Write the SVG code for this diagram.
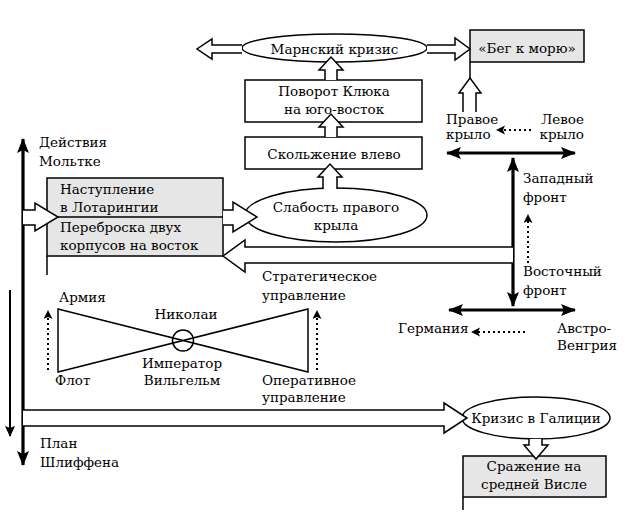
<svg xmlns="http://www.w3.org/2000/svg" width="642" height="532" viewBox="0 0 642 532">
<defs>
<style>
.t{font-family:'DejaVu Serif',serif;font-size:13.5px;fill:#000}
.c{text-anchor:middle}
.e{text-anchor:end}
.box{fill:#fff;stroke:#000;stroke-width:1.5}
.gbox{fill:#e6e6e6;stroke:#000;stroke-width:1.5}
.hol{fill:#fff;stroke:#000;stroke-width:1.5;stroke-linejoin:miter}
.thick{stroke:#000;stroke-width:3.2;fill:none}
.thin{stroke:#000;stroke-width:2;fill:none}
.dot{stroke:#000;stroke-width:2;stroke-dasharray:2 3;fill:none}
.ln{stroke:#000;stroke-width:1.5;fill:none}
</style>
<marker id="ah" markerUnits="userSpaceOnUse" markerWidth="16" markerHeight="12" refX="14" refY="6" orient="auto-start-reverse">
<path d="M0,0 L15,6 L0,12 L3,6 Z" fill="#000"/>
</marker>
<marker id="ahs" markerUnits="userSpaceOnUse" markerWidth="12" markerHeight="10" refX="10" refY="5" orient="auto-start-reverse">
<path d="M0,0 L11,5 L0,10 L2,5 Z" fill="#000"/>
</marker>
<marker id="ahd" markerUnits="userSpaceOnUse" markerWidth="10" markerHeight="10" refX="8" refY="4.5" orient="auto">
<path d="M0,0 L9,4.5 L0,9 L2,4.5 Z" fill="#000"/>
</marker>
</defs>
<g id="axis">
<line class="thick" x1="23" y1="139" x2="23" y2="465" marker-start="url(#ah)" marker-end="url(#ah)"/>
<line class="thin" x1="10" y1="290" x2="10" y2="436" marker-end="url(#ahs)"/>
<text class="t" x="39" y="147">Действия</text>
<text class="t" x="39" y="166">Мольтке</text>
<text class="t" x="40" y="448">План</text>
<text class="t" x="40" y="467">Шлиффена</text>
</g>

<g id="marne">
<ellipse class="box" cx="334.5" cy="48" rx="92.5" ry="14"/>
<text class="t c" x="334.5" y="54">Марнский кризис</text>
</g>

<g id="beg">
<rect class="gbox" x="470" y="30" width="114" height="32"/>
<text class="t c" x="527" y="53">«Бег к морю»</text>
</g>

<g id="kluck">
<rect class="box" x="245" y="80" width="177" height="42"/>
<text class="t c" x="334" y="96">Поворот Клюка</text>
<text class="t c" x="334" y="114">на юго-восток</text>
</g>

<g id="slide">
<rect class="box" x="245" y="137" width="177" height="32"/>
<text class="t c" x="334" y="159">Скольжение влево</text>
</g>

<g id="lorraine">
<rect class="gbox" x="47" y="178" width="176" height="78"/>
<line class="ln" x1="47" y1="217" x2="223" y2="217"/>
<line class="ln" x1="47" y1="256" x2="47" y2="275"/>
<text class="t" x="60" y="194">Наступление</text>
<text class="t" x="60" y="212">в Лотарингии</text>
<text class="t" x="60" y="232">Переброска двух</text>
<text class="t" x="60" y="250">корпусов на восток</text>
</g>

<g id="weakness">
<ellipse class="box" cx="336" cy="215" rx="91" ry="27"/>
<text class="t c" x="336" y="212">Слабость правого</text>
<text class="t c" x="336" y="230">крыла</text>
</g>

<g id="wings">
<line class="thick" x1="447" y1="153" x2="575" y2="153" marker-start="url(#ah)" marker-end="url(#ah)"/>
<text class="t" x="446" y="124">Правое</text>
<text class="t" x="446" y="139">крыло</text>
<text class="t e" x="584" y="124">Левое</text>
<text class="t e" x="584" y="139">крыло</text>
<line class="dot" x1="531" y1="130" x2="497" y2="130" marker-end="url(#ahd)"/>
</g>

<g id="fronts">
<line class="thick" x1="513" y1="158" x2="513" y2="306" marker-start="url(#ah)" marker-end="url(#ah)"/>
<text class="t" x="523" y="183">Западный</text>
<text class="t" x="523" y="202">фронт</text>
<text class="t" x="523" y="276">Восточный</text>
<text class="t" x="523" y="295">фронт</text>
<line class="dot" x1="528" y1="263" x2="528" y2="215" marker-end="url(#ahd)"/>
</g>

<g id="allies">
<line class="thick" x1="449" y1="310" x2="575" y2="310" marker-start="url(#ah)" marker-end="url(#ah)"/>
<text class="t" x="398" y="333">Германия</text>
<text class="t" x="557" y="333">Австро-</text>
<text class="t" x="557" y="350">Венгрия</text>
<line class="dot" x1="525" y1="332" x2="472" y2="332" marker-end="url(#ahd)"/>
</g>

<g id="bowtie">
<path class="ln" d="M58,309 L308,372 L308,309 L58,372 Z"/>
<circle class="ln" cx="183" cy="340.5" r="10.5"/>
<line class="dot" x1="48" y1="370" x2="48" y2="311" marker-end="url(#ahd)"/>
<line class="dot" x1="317" y1="370" x2="317" y2="311" marker-end="url(#ahd)"/>
<text class="t" x="59" y="302">Армия</text>
<text class="t" x="55" y="385">Флот</text>
<text class="t c" x="186" y="319">Николаи</text>
<text class="t c" x="182" y="368">Император</text>
<text class="t c" x="182" y="385">Вильгельм</text>
<text class="t" x="262" y="281">Стратегическое</text>
<text class="t" x="262" y="300">управление</text>
<text class="t" x="262" y="385">Оперативное</text>
<text class="t" x="262" y="402">управление</text>
</g>

<g id="galicia">
<ellipse class="box" cx="536" cy="418" rx="74" ry="21"/>
<text class="t c" x="536" y="423">Кризис в Галиции</text>
</g>

<g id="vistula">
<rect class="gbox" x="463" y="456" width="143" height="41"/>
<line class="ln" x1="463" y1="497" x2="463" y2="510"/>
<text class="t c" x="534" y="471">Сражение на</text>
<text class="t c" x="534" y="489">средней Висле</text>
</g>

<g id="connectors">
<path class="hol" d="M242,45 L212,45 L212,39 L197,49 L212,59 L212,53 L242,53"/>
<path class="hol" d="M427,45 L455,45 L455,38 L470,49 L455,60 L455,53 L427,53"/>
<path class="hol" d="M325,80 L325,70 L319,70 L331,57 L343,70 L337,70 L337,80"/>
<path class="hol" d="M325,137 L325,127 L319,127 L331,114 L343,127 L337,127 L337,137"/>
<path class="hol" d="M323,189 L323,177 L318,177 L330,164 L342,177 L337,177 L337,189"/>
<path class="hol" d="M463,112 L463,93 L459,93 L470,78 L481,93 L476,93 L476,112"/>
<line class="ln" x1="470" y1="62" x2="470" y2="78"/>
<path class="hol" d="M23,210 L35,210 L35,203 L58,217 L35,231 L35,225 L23,225"/>
<path class="hol" d="M223,210 L233,210 L233,202 L257,217 L233,232 L233,225 L223,225"/>
<path class="hol" d="M513,247 L245,247 L245,240 L223,256 L245,272 L245,263 L513,263"/>
<path class="hol" d="M23,410 L444,410 L444,403 L467,418 L444,433 L444,426 L23,426"/>
<path class="hol" d="M529,439 L529,445 L524,445 L536,459 L548,445 L542,445 L542,439"/>
</g>
</svg>
